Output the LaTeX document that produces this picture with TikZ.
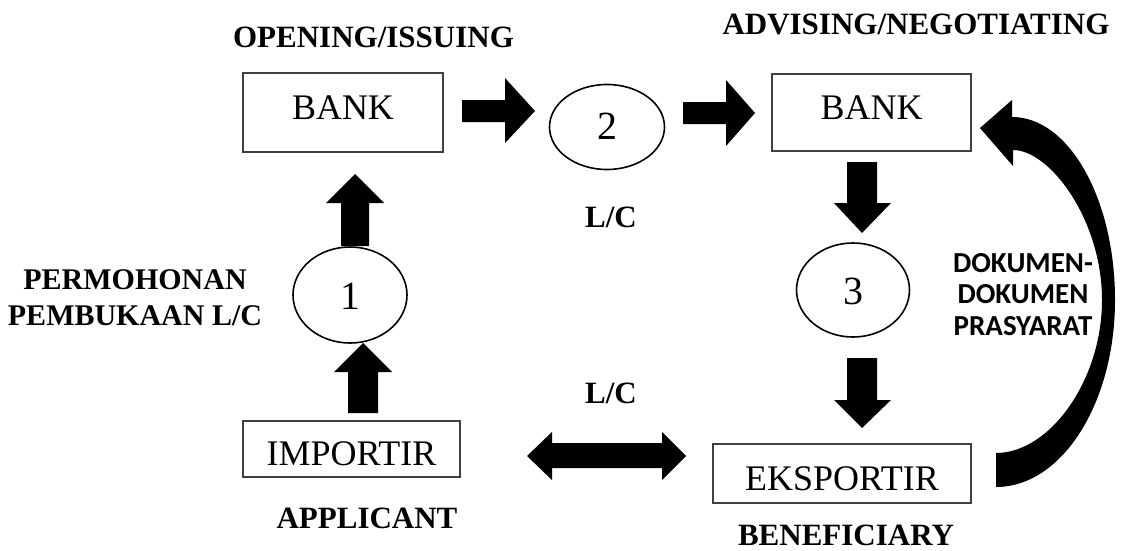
\documentclass[tikz,border=0pt]{standalone}
\usepackage{fontspec}
\setmainfont{Liberation Serif}
\newfontfamily\calib{Carlito}
\usetikzlibrary{shapes.geometric}
\newcommand\lowr[2]{\raisebox{-#1}[0pt][0pt]{#2}}
\begin{document}
\begin{tikzpicture}[x=1pt,y=-1pt,
  box/.style={draw=black!75,line width=1.2pt,rectangle,inner sep=0pt,font=\fontsize{36}{40}\selectfont},
  circ/.style={draw,line width=1.6pt,ellipse,inner sep=0pt,font=\fontsize{40}{44}\selectfont},
  lbl/.style={font=\bfseries\fontsize{31}{36}\selectfont,inner sep=0pt,anchor=base},
  blk/.style={fill=black}]
\useasboundingbox (0,0) rectangle (1130,551);

% boxes
\node[box,minimum width=200pt,minimum height=79pt] (bank1) at (343,112.5) {\lowr{7pt}{BANK}};
\node[box,minimum width=199pt,minimum height=77pt] (bank2) at (871.5,112.5) {\lowr{7pt}{BANK}};
\node[box,minimum width=217pt,minimum height=56pt] (imp) at (351.5,449) {\lowr{16pt}{IMPORTIR}};
\node[box,minimum width=258pt,minimum height=59pt] (eks) at (842,473.5) {\lowr{16.5pt}{EKSPORTIR}};

% ellipses
\node[circ,minimum width=114pt,minimum height=96pt] (e1) at (350,295) {\lowr{14pt}{1}};
\node[circ,minimum width=115pt,minimum height=85pt] (e2) at (607,127) {\lowr{13pt}{2}};
\node[circ,minimum width=113pt,minimum height=94pt] (e3) at (853,290) {\lowr{14pt}{3}};

% labels
\node[lbl] (lopen) at (373.5,48) {OPENING/ISSUING};
\node[lbl] (ladv) at (916,35) {ADVISING/NEGOTIATING};
\node[lbl] (llc1) at (611,227) {L/C};
\node[lbl] (llc2) at (611,403) {L/C};
\node[font=\bfseries\fontsize{30}{36}\selectfont,inner sep=0pt,align=center,anchor=north] (lperm) at (135,269) {PERMOHONAN\\PEMBUKAAN L/C};
\node[font=\calib\bfseries\fontsize{29}{31.5}\selectfont,inner sep=0pt,align=center,anchor=north] (ldok) at (1023,253) {DOKUMEN-\\DOKUMEN\\PRASYARAT};
\node[lbl] (lapp) at (367,528) {APPLICANT};
\node[lbl] (lben) at (846,545) {BENEFICIARY};

% block arrows
\fill[blk] (462,100) -- (505,100) -- (505,78) -- (535,111) -- (505,143) -- (505,122) -- (462,122) -- cycle;
\fill[blk] (683,102) -- (726,102) -- (726,80) -- (755,113) -- (726,146) -- (726,124) -- (683,124) -- cycle;
\fill[blk] (341,246) -- (341,203) -- (326,203) -- (355,174) -- (384,203) -- (369,203) -- (369,246) -- cycle;
\fill[blk] (348,413) -- (348,372) -- (334,372) -- (363,343) -- (392,372) -- (378,372) -- (378,413) -- cycle;
\fill[blk] (847,162) -- (847,203) -- (834,203) -- (862,233) -- (891,203) -- (877,203) -- (877,162) -- cycle;
\fill[blk] (847,358) -- (847,400) -- (834,400) -- (862,428) -- (891,400) -- (877,400) -- (877,358) -- cycle;
\fill[blk] (527,456) -- (552,432) -- (552,443) -- (662,443) -- (662,432) -- (686,456) -- (662,480) -- (662,468) -- (552,468) -- (552,480) -- cycle;

% curved arrow
\fill[blk] (996,487) .. controls (1062,487) and (1115,403) .. (1115,300)
  .. controls (1115,199) and (1069,117) .. (1012,117)
  -- (1012,100) -- (980,128) -- (1013,166) -- (1013,150)
  .. controls (1050,150) and (1102,220) .. (1102,300)
  .. controls (1102,380) and (1050,453) .. (996,453) -- cycle;
\end{tikzpicture}
\end{document}
